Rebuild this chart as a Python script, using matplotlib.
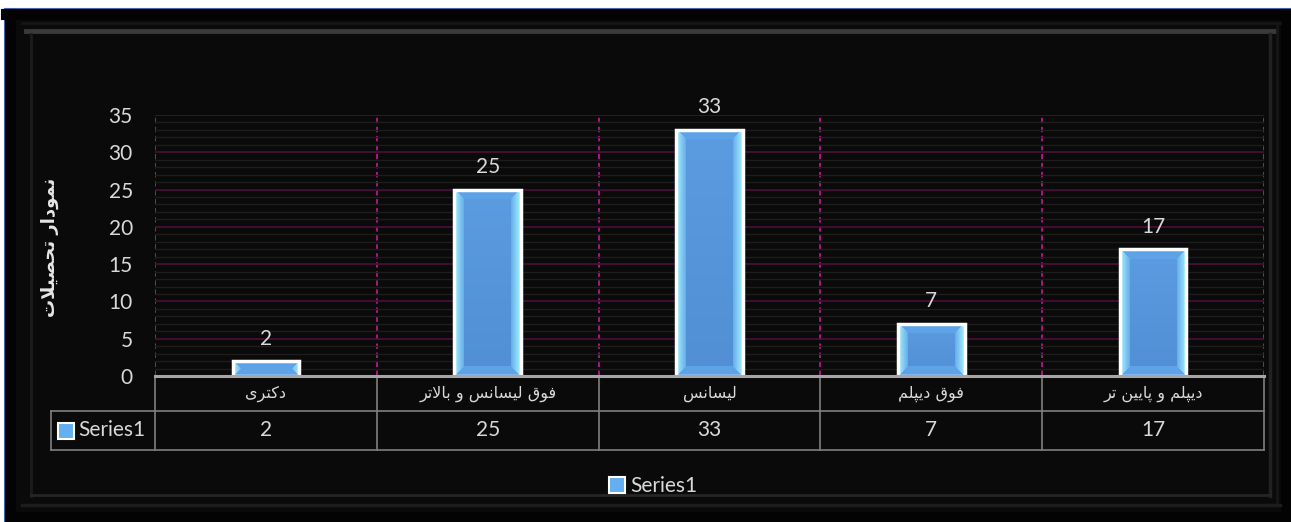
import numpy as np
import matplotlib
matplotlib.use('Agg')
import matplotlib.pyplot as plt
from matplotlib.patches import Rectangle, Patch
from matplotlib.lines import Line2D

###### DATA ######

categories = ['دکتری', 'فوق لیسانس و بالاتر', 'لیسانس', 'فوق دیپلم', 'دیپلم و پایین تر']
values = [2, 25, 33, 7, 17]
series_name = 'Series1'
y_label = 'نمودار تحصیلات'
y_ticks = [0, 5, 10, 15, 20, 25, 30, 35]

###### ARABIC SHAPING ######
# matplotlib has no complex text layout, so pick the contextual forms by hand
# (isolated, final, initial, medial) and flip to visual order.

FORMS = {
    '\u0627': ('\uFE8D', '\uFE8E', None, None),
    '\u0628': ('\uFE8F', '\uFE90', '\uFE91', '\uFE92'),
    '\u067E': ('\uFB56', '\uFB57', '\uFB58', '\uFB59'),
    '\u062A': ('\uFE95', '\uFE96', '\uFE97', '\uFE98'),
    '\u062D': ('\uFEA1', '\uFEA2', '\uFEA3', '\uFEA4'),
    '\u062F': ('\uFEA9', '\uFEAA', None, None),
    '\u0631': ('\uFEAD', '\uFEAE', None, None),
    '\u0633': ('\uFEB1', '\uFEB2', '\uFEB3', '\uFEB4'),
    '\u0635': ('\uFEB9', '\uFEBA', '\uFEBB', '\uFEBC'),
    '\u0641': ('\uFED1', '\uFED2', '\uFED3', '\uFED4'),
    '\u0642': ('\uFED5', '\uFED6', '\uFED7', '\uFED8'),
    '\u06A9': ('\uFB8E', '\uFB8F', '\uFB90', '\uFB91'),
    '\u0644': ('\uFEDD', '\uFEDE', '\uFEDF', '\uFEE0'),
    '\u0645': ('\uFEE1', '\uFEE2', '\uFEE3', '\uFEE4'),
    '\u0646': ('\uFEE5', '\uFEE6', '\uFEE7', '\uFEE8'),
    '\u0648': ('\uFEED', '\uFEEE', None, None),
    '\u06CC': ('\uFBFC', '\uFBFD', '\uFBFE', '\uFBFF'),
    'LA': ('\uFEFB', '\uFEFC', None, None),
}


def shape(text):
    units = []
    i = 0
    while i < len(text):
        if text[i] == '\u0644' and i + 1 < len(text) and text[i + 1] == '\u0627':
            units.append('LA')
            i += 2
        else:
            units.append(text[i])
            i += 1
    out = []
    for k, u in enumerate(units):
        if u not in FORMS:
            out.append(u)
            continue
        prev = units[k - 1] if k > 0 else None
        nxt = units[k + 1] if k + 1 < len(units) else None
        join_prev = prev in FORMS and FORMS[prev][2] is not None
        join_next = FORMS[u][2] is not None and nxt in FORMS
        iso, fin, ini, med = FORMS[u]
        if join_prev and join_next:
            out.append(med)
        elif join_prev:
            out.append(fin)
        elif join_next:
            out.append(ini)
        else:
            out.append(iso)
    return ''.join(reversed(out))


###### FIGURE ######

W, H = 1291, 522
plt.rcParams['font.family'] = ['Lato', 'DejaVu Sans']
TXT = '#d9d9d9'
GRID_LINE = '#7f7f7f'

fig = plt.figure(figsize=(W / 100, H / 100), dpi=100)
fig.patch.set_facecolor('white')


def fx(px):
    return px / W


def fy(py):
    return 1 - py / H


def fig_line(xs, ys, **kw):
    fig.add_artist(Line2D([fx(v) for v in xs], [fy(v) for v in ys], transform=fig.transFigure, **kw))


# black frame with a soft bevel
fig.add_artist(Rectangle((fx(5), 0), 1 - fx(5), fy(9), transform=fig.transFigure,
                         facecolor='#0a0a0a', edgecolor='none', zorder=0))
fig_line([5, 1291], [9, 9], color='#4a6eb5', lw=1.5)
fig_line([5, 5], [9, 522], color='#4a6eb5', lw=1.5)
fig_line([6, 1291], [14, 14], color='#030303', lw=8)
fig_line([10, 10], [14, 522], color='#030303', lw=8)
fig_line([1286, 1286], [14, 522], color='#030303', lw=8)
fig_line([10, 1286], [517, 517], color='#030303', lw=8)
fig_line([22, 1280], [23, 23], color='#161616', lw=2)
fig_line([26, 1276], [31, 31], color='#3a3a3a', lw=3.5)
fig_line([31, 31], [34, 496], color='#1c1c1c', lw=2)
fig_line([1270, 1270], [34, 496], color='#222222', lw=2.5)
fig_line([1277, 1277], [26, 505], color='#161616', lw=2)
fig_line([31, 1270], [495, 495], color='#262626', lw=2)
fig_line([22, 1280], [505, 505], color='#1c1c1c', lw=2.5)

ax = fig.add_axes([fx(155), fy(376), fx(1264) - fx(155), fy(115) - fy(376)])
ax.set_facecolor('none')

x = np.arange(len(categories))
ax.set_yticks(y_ticks)
ax.set_yticks(np.arange(0, 36, 1), minor=True)
ax.set_xticks([])
ax.grid(True, axis='y', which='minor', color='#1d1d1d', lw=1, zorder=0)
ax.grid(True, axis='y', which='major', color='#4a0d38', lw=1.3, zorder=0.5)
ax.tick_params(axis='y', which='both', length=0, pad=16, labelsize=15, labelcolor=TXT)
for s in ['top', 'right', 'left']:
    ax.spines[s].set_visible(False)
ax.spines['bottom'].set_color('#a6a6a6')
ax.spines['bottom'].set_linewidth(2.2)
ax.spines['bottom'].set_zorder(5)

bounds = np.arange(len(categories) + 1) - 0.5
ax.vlines(bounds, 0, 35, colors='#b8178a', lw=1.3, linestyles=(0, (3, 2)), zorder=1)

###### BARS ######

bar_w = 0.3
bars = ax.bar(x, values, width=bar_w, facecolor='none', edgecolor='white', linewidth=2.5, zorder=4)

ax_w_px = 1264 - 155
ax_h_px = 376 - 115
bevel = 10.0
side_edge = np.array([0.66, 0.95, 1.0])
side_in = np.array([0.40, 0.68, 0.92])
tb_col = np.array([0.37, 0.64, 0.91])
center_top = np.array([0.36, 0.61, 0.88])
center_bot = np.array([0.32, 0.56, 0.83])

for b in bars:
    x0, w, h = b.get_x(), b.get_width(), b.get_height()
    wpx = max(int(round(w * ax_w_px / len(categories))), 2)
    hpx = max(int(round(h * ax_h_px / 35)), 2)
    xx, yy = np.meshgrid(np.arange(wpx) + 0.5, np.arange(hpx) + 0.5)
    side = np.minimum(xx, wpx - xx)
    tb = np.minimum(yy, hpx - yy)
    t = (yy / hpx)[..., None]
    img = center_top * (1 - t) + center_bot * t
    s_mask = (side < bevel) & (side <= tb)
    f = (side / bevel)[..., None]
    side_img = side_edge * (1 - f) + side_in * f
    img = np.where(s_mask[..., None], side_img, img)
    t_mask = (tb < bevel) & (tb < side)
    img = np.where(t_mask[..., None], tb_col, img)
    ax.imshow(img, extent=(x0, x0 + w, 0, h), origin='upper', aspect='auto',
              interpolation='bilinear', zorder=3)

ax.set_xlim(-0.5, len(categories) - 0.5)
ax.set_ylim(0, 35)
ax.bar_label(bars, labels=[str(v) for v in values], padding=9, fontsize=15, color=TXT)

###### DATA TABLE ######
# x in data units (category slots), y in axes units below the plot

tr = ax.get_xaxis_transform()
px_x = len(categories) / ax_w_px
row0_h = 35 / ax_h_px
row1_h = 39 / ax_h_px
lab_w = (155 - 51) * px_x
y_mid = -row0_h
y_bot = -row0_h - row1_h
line_kw = dict(color=GRID_LINE, lw=1.2, transform=tr, clip_on=False, zorder=2)

for bx in bounds:
    ax.add_line(Line2D([bx, bx], [0, y_bot], **line_kw))
ax.add_line(Line2D([bounds[0] - lab_w, bounds[-1]], [y_mid, y_mid], **line_kw))
ax.add_line(Line2D([bounds[0] - lab_w, bounds[-1]], [y_bot, y_bot], **line_kw))
ax.add_line(Line2D([bounds[0] - lab_w] * 2, [y_mid, y_bot], **line_kw))

for xi, cat, v in zip(x, categories, values):
    ax.text(xi, -row0_h / 2, shape(cat), transform=tr, ha='center', va='center',
            fontsize=11.5, color=TXT, family=['DejaVu Sans'])
    ax.text(xi, y_mid - row1_h / 2, str(v), transform=tr, ha='center', va='center',
            fontsize=15, color=TXT)

key_color = '#63aff0'
ax.add_patch(Rectangle((bounds[0] - lab_w + 7 * px_x, y_mid - row1_h / 2 - 8 / ax_h_px),
                       16 * px_x, 16 / ax_h_px, transform=tr, facecolor=key_color,
                       edgecolor='white', lw=1.5, clip_on=False, zorder=6))
ax.text(bounds[0] - lab_w + 27 * px_x, y_mid - row1_h / 2, series_name, transform=tr,
        ha='left', va='center', fontsize=15, color=TXT)

###### LABELS ######

fig.text(fx(50), fy(247), shape(y_label), rotation=90, ha='center', va='center',
         fontsize=13, fontweight='bold', color='#e6e6e6', family=['DejaVu Sans'])

fig.legend(handles=[Patch(facecolor=key_color, edgecolor='white', lw=1.5)], labels=[series_name],
           loc='center', bbox_to_anchor=(fx(653), fy(486)), frameon=False, fontsize=15,
           labelcolor=TXT, handlelength=0.8, handleheight=0.8, handletextpad=0.25)

fig.savefig('out.png', dpi=100, facecolor=fig.get_facecolor())
